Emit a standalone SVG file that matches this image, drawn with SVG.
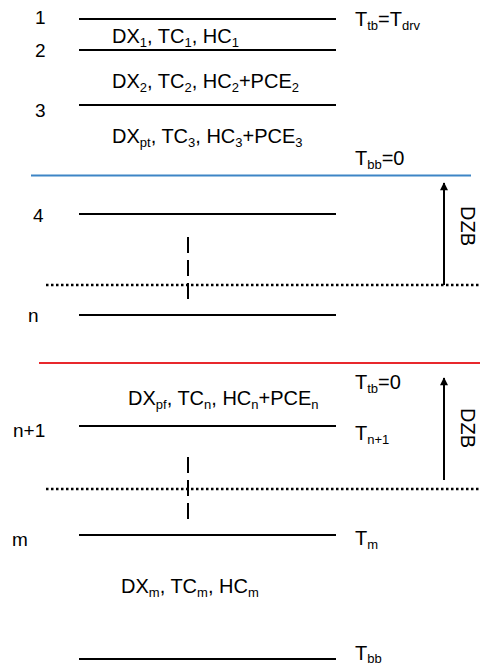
<svg xmlns="http://www.w3.org/2000/svg" width="480" height="667" viewBox="0 0 480 667">
<style>
.t{font-family:"Liberation Sans",Arial,sans-serif;font-size:20px;fill:#000}
.l{font-family:"Liberation Sans",Arial,sans-serif;font-size:19px;fill:#000}
.s{font-size:13px}
.ln{stroke:#000;stroke-width:2;fill:none}
.dot{stroke:#000;stroke-width:2.5;stroke-dasharray:2.5 2.5;fill:none}
.dash{stroke:#000;stroke-width:2;stroke-dasharray:16 7;fill:none}
.arr{stroke:#000;stroke-width:2;fill:none;marker-end:url(#ah)}
</style>
<defs>
<marker id="ah" viewBox="0 0 10 10" refX="9" refY="5" markerWidth="4.5" markerHeight="4" orient="auto" markerUnits="strokeWidth">
<path d="M0,0 L10,5 L0,10 z" fill="#000"/>
</marker>
</defs>
<rect width="480" height="667" fill="#fff"/>

<g id="level-1">
<line class="ln" x1="79" y1="19" x2="336" y2="19"/>
<text class="l" x="35" y="24">1</text>
<text class="t" x="355" y="26">T<tspan class="s" dy="4">tb</tspan><tspan dy="-4">=T</tspan><tspan class="s" dy="4">drv</tspan></text>
</g>
<g id="layer-1">
<text class="t" x="112" y="43">DX<tspan class="s" dy="4">1</tspan><tspan dy="-4">, TC</tspan><tspan class="s" dy="4">1</tspan><tspan dy="-4">, HC</tspan><tspan class="s" dy="4">1</tspan></text>
</g>
<g id="level-2">
<line class="ln" x1="79" y1="50" x2="336" y2="50"/>
<text class="l" x="35" y="57">2</text>
</g>
<g id="layer-2">
<text class="t" x="112" y="88">DX<tspan class="s" dy="4">2</tspan><tspan dy="-4">, TC</tspan><tspan class="s" dy="4">2</tspan><tspan dy="-4">, HC</tspan><tspan class="s" dy="4">2</tspan><tspan dy="-4">+PCE</tspan><tspan class="s" dy="4">2</tspan></text>
</g>
<g id="level-3">
<line class="ln" x1="79" y1="105" x2="336" y2="105"/>
<text class="l" x="35" y="117">3</text>
</g>
<g id="layer-3">
<text class="t" x="112" y="143">DX<tspan class="s" dy="4">pt</tspan><tspan dy="-4">, TC</tspan><tspan class="s" dy="4">3</tspan><tspan dy="-4">, HC</tspan><tspan class="s" dy="4">3</tspan><tspan dy="-4">+PCE</tspan><tspan class="s" dy="4">3</tspan></text>
</g>
<g id="boundary-blue">
<text class="t" x="355" y="165">T<tspan class="s" dy="4">bb</tspan><tspan dy="-4">=0</tspan></text>
<line x1="31" y1="175.5" x2="471" y2="175.5" stroke="#3d85c6" stroke-width="2"/>
</g>
<g id="level-4">
<line class="ln" x1="79" y1="214" x2="336" y2="214"/>
<text class="l" x="33" y="222">4</text>
</g>
<g id="gap-1">
<line class="dash" x1="188" y1="237" x2="188" y2="300"/>
<line class="dot" x1="46" y1="285" x2="480" y2="285"/>
</g>
<g id="level-n">
<line class="ln" x1="79" y1="315" x2="336" y2="315"/>
<text class="l" x="28" y="322">n</text>
</g>
<g id="boundary-red">
<line x1="39" y1="363" x2="480" y2="363" stroke="#e8282c" stroke-width="2"/>
<text class="t" x="355" y="389">T<tspan class="s" dy="4">tb</tspan><tspan dy="-4">=0</tspan></text>
</g>
<g id="layer-n">
<text class="t" x="128" y="405">DX<tspan class="s" dy="4">pf</tspan><tspan dy="-4">, TC</tspan><tspan class="s" dy="4">n</tspan><tspan dy="-4">, HC</tspan><tspan class="s" dy="4">n</tspan><tspan dy="-4">+PCE</tspan><tspan class="s" dy="4">n</tspan></text>
</g>
<g id="level-n1">
<line class="ln" x1="79" y1="426" x2="336" y2="426"/>
<text class="l" x="13" y="437">n+1</text>
<text class="t" x="355" y="440">T<tspan class="s" dy="4">n+1</tspan></text>
</g>
<g id="gap-2">
<line class="dash" x1="188" y1="457" x2="188" y2="520"/>
<line class="dot" x1="46" y1="489" x2="480" y2="489"/>
</g>
<g id="level-m">
<line class="ln" x1="79" y1="535" x2="336" y2="535"/>
<text class="l" x="12" y="546">m</text>
<text class="t" x="355" y="545">T<tspan class="s" dy="4">m</tspan></text>
</g>
<g id="layer-m">
<text class="t" x="121" y="593">DX<tspan class="s" dy="4">m</tspan><tspan dy="-4">, TC</tspan><tspan class="s" dy="4">m</tspan><tspan dy="-4">, HC</tspan><tspan class="s" dy="4">m</tspan></text>
</g>
<g id="level-bb">
<line class="ln" x1="79" y1="659" x2="336" y2="659"/>
<text class="t" x="355" y="660">T<tspan class="s" dy="3">bb</tspan></text>
</g>

<g id="connectors">
<line class="arr" x1="444" y1="285" x2="444" y2="183"/>
<line class="arr" x1="444" y1="480" x2="444" y2="378"/>
</g>
<g id="dzb-labels">
<text class="t" transform="translate(461,206) rotate(90)" x="0" y="0">DZB</text>
<text class="t" transform="translate(461,408) rotate(90)" x="0" y="0">DZB</text>
</g>
</svg>
